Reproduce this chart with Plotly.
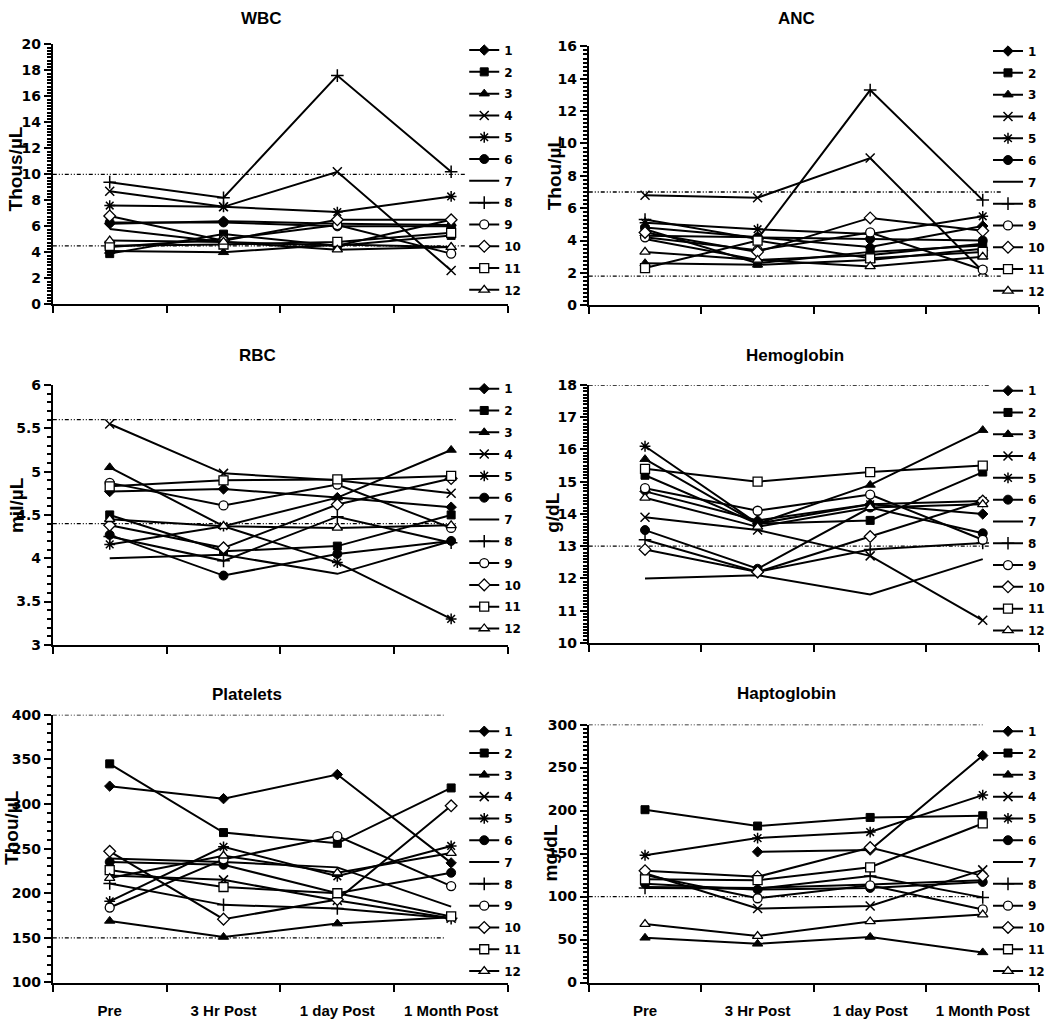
import plotly.graph_objects as go

# ---------------- data ----------------
timepoints = ["Pre", "3 Hr Post", "1 day Post", "1 Month Post"]
patients = ["1", "2", "3", "4", "5", "6", "7", "8", "9", "10", "11", "12"]

wbc = [
    [6.2, 6.4, 6.2, 6.1],
    [3.9, 5.4, 4.5, 5.3],
    [4.1, 4.0, 4.6, 4.4],
    [8.7, 7.5, 10.2, 2.6],
    [7.6, 7.5, 7.1, 8.3],
    [6.3, 6.3, 6.0, 6.0],
    [5.8, 4.8, 4.5, 6.5],
    [9.4, 8.2, 17.6, 10.2],
    [4.4, 5.0, 6.1, 3.9],
    [6.8, 4.9, 6.5, 6.5],
    [4.5, 4.6, 4.8, 5.5],
    [4.9, 4.8, 4.2, 4.4],
]
anc = [
    [4.3, 4.2, 3.6, 4.9],
    [4.7, 2.6, 3.3, 3.7],
    [2.6, 2.5, 2.8, 3.5],
    [6.8, 6.65, 9.1, 2.1],
    [5.1, 4.7, 4.4, 5.5],
    [4.8, 4.2, 4.1, 4.0],
    [4.1, 2.8, 3.1, 3.8],
    [5.3, 4.1, 13.3, 6.5],
    [4.2, 3.4, 4.5, 2.2],
    [4.5, 3.3, 5.4, 4.6],
    [2.3, 4.0, 2.9, 3.3],
    [3.3, 2.8, 2.4, 3.0],
]
rbc = [
    [4.77, 4.80, 4.70, 4.59],
    [4.50, 4.08, 4.14, 4.50],
    [5.05, 4.37, 4.70, 5.25],
    [5.55, 4.98, 4.90, 4.75],
    [4.16, 4.37, 3.95, 3.30],
    [4.27, 3.80, 4.05, 4.20],
    [4.00, 4.04, 3.82, 4.20],
    [4.25, 3.97, 4.48, 4.18],
    [4.87, 4.61, 4.85, 4.35],
    [4.38, 4.12, 4.62, 4.92],
    [4.83, 4.90, 4.91, 4.95],
    [4.45, 4.37, 4.35, 4.38],
]
hgb = [
    [14.7, 13.8, 14.3, 14.0],
    [15.2, 13.7, 13.8, 15.3],
    [15.7, 13.7, 14.9, 16.6],
    [13.9, 13.5, 12.7, 10.7],
    [16.1, 13.7, 14.3, 14.4],
    [13.5, 12.3, 14.2, 13.4],
    [12.0, 12.1, 11.5, 12.6],
    [13.2, 12.2, 12.9, 13.1],
    [14.8, 14.1, 14.6, 13.2],
    [12.9, 12.2, 13.3, 14.4],
    [15.4, 15.0, 15.3, 15.5],
    [14.5, 13.6, 14.2, 14.3],
]
platelets = [
    [320, 306, 333, 234],
    [345, 268, 256, 318],
    [169, 151, 166, 173],
    [220, 215, 192, 172],
    [191, 252, 219, 253],
    [235, 232, 200, 223],
    [239, 235, 229, 185],
    [211, 187, 183, 172],
    [184, 238, 264, 208],
    [247, 171, 193, 298],
    [226, 207, 200, 174],
    [217, 242, 223, 245],
]
haptoglobin = [
    [None, 152, 154, 264],
    [201, 182, 192, 194],
    [52, 45, 53, 35],
    [127, 86, 89, 131],
    [148, 168, 175, 218],
    [115, 108, 110, 117],
    [111, 110, 114, 119],
    [110, 109, 124, 99],
    [125, 98, 113, 85],
    [130, 123, 157, 124],
    [120, 119, 134, 185],
    [68, 54, 71, 79],
]

panel_titles = ["WBC", "ANC", "RBC", "Hemoglobin", "Platelets", "Haptoglobin"]
y_titles = ["Thous/µL", "Thou/µL", "mil/µL", "g/dL", "Thou/µL", "mg/dL"]
y_ranges = [[0, 20], [0, 16], [3, 6], [10, 18], [100, 400], [0, 300]]
y_major = [2, 2, 0.5, 1, 50, 50]
y_minor = [0.25, 0.25, 0.1, 0.1, 10, 5]
ref_low = [4.5, 1.8, 4.4, 13, 150, 100]
ref_high = [10, 7, 5.6, 18, 400, 300]
panel_values = [wbc, anc, rbc, hgb, platelets, haptoglobin]

# ---------------- styling ----------------
W, H = 1050, 1022
FONT = "Liberation Sans, Arial, sans-serif"
TICKFONT = "DejaVu Sans, Liberation Sans, sans-serif"

symbols = [
    dict(symbol="diamond", color="black", size=8, line=dict(color="black", width=1)),
    dict(symbol="square", color="black", size=8, line=dict(color="black", width=1)),
    dict(symbol="triangle-up", color="black", size=9, line=dict(color="black", width=1)),
    dict(symbol="x-thin-open", color="black", size=9, line=dict(color="black", width=1.5)),
    dict(symbol="asterisk-open", color="black", size=9, line=dict(color="black", width=1.5)),
    dict(symbol="circle", color="black", size=9, line=dict(color="black", width=1)),
    None,
    dict(symbol="cross-thin-open", color="black", size=9, line=dict(color="black", width=1.5)),
    dict(symbol="circle", color="white", size=9, line=dict(color="black", width=1.3)),
    dict(symbol="diamond", color="white", size=9, line=dict(color="black", width=1.3)),
    dict(symbol="square", color="white", size=9, line=dict(color="black", width=1.3)),
    dict(symbol="triangle-up", color="white", size=9, line=dict(color="black", width=1.3)),
]

# pixel geometry: (x_left, x_right, y_top, y_bottom)
geom = [
    (53, 510, 37, 301),
    (591, 1043, 39, 302),
    (53, 510, 383, 647),
    (591, 1043, 383, 645),
    (53, 510, 718, 990),
    (591, 1043, 728, 990),
]
title_pos = [(262, 11), (800, 11), (258, 353), (798, 353), (248, 697), (790, 696)]
ytitle_pos = [(16, 163), (557, 167), (16, 505), (555, 513), (12, 832), (553, 858)]
legend_pos = [(466, 28), (992, 29), (466, 372), (992, 374), (466, 720), (992, 720)]
ref_end = [3.63, 3.66, 3.54, 3.57, 3.45, 3.5]

x_pos = [i + 0.5 for i in range(len(timepoints))]

fig = go.Figure()
layout = dict(
    width=W, height=H,
    margin=dict(l=0, r=0, t=0, b=0),
    paper_bgcolor="white", plot_bgcolor="white",
    font=dict(family=FONT, color="black"),
    annotations=[], shapes=[],
)

for p in range(6):
    ax = "" if p == 0 else str(p + 1)
    xa, ya = "x" + ax, "y" + ax
    legname = "legend" if p == 0 else "legend" + str(p + 1)
    xl, xr, yt, yb = geom[p]
    data = panel_values[p]
    for i, name in enumerate(patients):
        m = symbols[i]
        tr = dict(
            x=x_pos, y=data[i], name=name, xaxis=xa, yaxis=ya,
            line=dict(color="black", width=2),
            legend=legname, legendgroup=f"p{p}-{i}",
            cliponaxis=False, connectgaps=False,
        )
        if m is None:
            tr["mode"] = "lines"
        else:
            tr["mode"] = "lines+markers"
            tr["marker"] = m
        fig.add_trace(go.Scatter(**tr))

    layout["xaxis" + ax] = dict(
        domain=[xl / W, xr / W], anchor=ya, range=[0, 4],
        showgrid=False, zeroline=False,
        showline=True, linecolor="black", linewidth=2,
        tickmode="array", tickvals=x_pos,
        ticktext=timepoints if p >= 4 else [""] * 4,
        showticklabels=p >= 4,
        ticks="", ticklabelstandoff=13,
        tickfont=dict(family=FONT, size=15, color="black", weight="bold"),
        minor=dict(tickmode="array", tickvals=[0, 1, 2, 3, 4], ticks="outside",
                   ticklen=7, tickwidth=2, tickcolor="black", showgrid=False),
    )
    layout["yaxis" + ax] = dict(
        domain=[1 - yb / H, 1 - yt / H], anchor=xa, range=y_ranges[p],
        showgrid=False, zeroline=False,
        showline=True, linecolor="black", linewidth=2,
        tickmode="linear", tick0=y_ranges[p][0], dtick=y_major[p],
        ticks="outside", ticklen=7, tickwidth=2, tickcolor="black",
        tickfont=dict(family=TICKFONT, size=14, color="black", weight="bold"),
        minor=dict(tickmode="linear", tick0=y_ranges[p][0], dtick=y_minor[p],
                   ticks="outside", ticklen=4, tickwidth=1.5, tickcolor="black",
                   showgrid=False),
    )
    layout[legname] = dict(
        x=legend_pos[p][0] / W, y=1 - legend_pos[p][1] / H,
        xanchor="left", yanchor="top",
        bgcolor="rgba(0,0,0,0)", borderwidth=0,
        font=dict(family=TICKFONT, size=12, color="black", weight="bold"),
        itemwidth=30, tracegroupgap=2.8, traceorder="grouped",
    )
    for v, x1 in ((ref_low[p], ref_end[p]), (ref_high[p], ref_end[p])):
        layout["shapes"].append(dict(
            type="line", xref=xa, yref=ya, x0=0, x1=x1, y0=v, y1=v,
            line=dict(color="black", width=1.3, dash="4px,2px,1px,2px,1px,2px"),
            layer="below",
        ))
    layout["annotations"].append(dict(
        text=panel_titles[p], xref="paper", yref="paper",
        x=title_pos[p][0] / W, y=1 - title_pos[p][1] / H,
        xanchor="center", yanchor="middle", showarrow=False,
        font=dict(family=FONT, size=17, color="black", weight="bold"),
    ))
    layout["annotations"].append(dict(
        text=y_titles[p], xref="paper", yref="paper",
        x=ytitle_pos[p][0] / W, y=1 - ytitle_pos[p][1] / H,
        xanchor="center", yanchor="middle", showarrow=False, textangle=-90,
        font=dict(family=FONT, size=19, color="black", weight="bold"),
    ))

fig.update_layout(**layout)
fig.write_html(
    "out.html",
    config={"displayModeBar": False},
    post_script="document.body.style.margin='0';document.body.style.overflow='hidden';",
)
